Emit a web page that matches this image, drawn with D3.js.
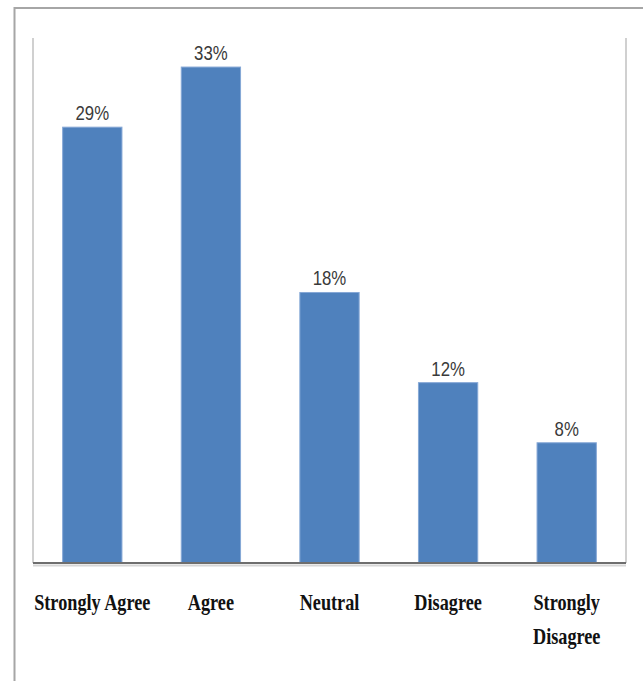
<!DOCTYPE html>
<html>
<head>
<meta charset="utf-8">
<script src="https://cdn.jsdelivr.net/npm/d3@7"></script>
<style>
  html, body { margin: 0; padding: 0; background: #fff; }
  svg { display: block; }
</style>
</head>
<body>
<script>
// Survey responses, share of respondents per answer
const categories = ["Strongly Agree", "Agree", "Neutral", "Disagree", "Strongly Disagree"];
const labelLines = [["Strongly Agree"], ["Agree"], ["Neutral"], ["Disagree"], ["Strongly", "Disagree"]];
const percents = [29, 33, 18, 12, 8];

const W = 643, H = 681;
const plot = { left: 33, right: 626, top: 37, bottom: 563 };

const svg = d3.select("body").append("svg")
  .attr("width", W).attr("height", H);

// outer frame (extends past the right and bottom edges)
svg.append("rect")
  .attr("x", 14.5).attr("y", 8)
  .attr("width", W + 20).attr("height", H + 20)
  .attr("fill", "#fff")
  .attr("stroke", "#a6a6a6").attr("stroke-width", 2);

const x = d3.scaleBand()
  .domain(categories)
  .range([plot.left, plot.right])
  .paddingInner(0.5)
  .paddingOuter(0.25);

const y = d3.scaleLinear()
  .domain([0, 35])
  .range([plot.bottom, plot.top]);

// side borders of the plot area
[plot.left, plot.right].forEach(px => {
  svg.append("line")
    .attr("x1", px).attr("x2", px)
    .attr("y1", plot.top + 1).attr("y2", plot.bottom)
    .attr("stroke", "#d0d0d0").attr("stroke-width", 2);
});

// bars
svg.append("g").selectAll("rect")
  .data(percents)
  .join("rect")
  .attr("x", (d, i) => x(categories[i]))
  .attr("y", d => y(d))
  .attr("width", x.bandwidth())
  .attr("height", d => y(0) - y(d))
  .attr("fill", "#4f81bd")
  .attr("stroke", "#86a8d6")
  .attr("stroke-width", 1);

// baseline with soft shadow
svg.append("line")
  .attr("x1", plot.left).attr("x2", plot.right)
  .attr("y1", plot.bottom + 2.5).attr("y2", plot.bottom + 2.5)
  .attr("stroke", "#d6d6d6").attr("stroke-width", 2);
svg.append("line")
  .attr("x1", plot.left).attr("x2", plot.right)
  .attr("y1", plot.bottom).attr("y2", plot.bottom)
  .attr("stroke", "#6e6e6e").attr("stroke-width", 2);

// value labels above bars (narrow sans)
svg.append("g").selectAll("text")
  .data(percents)
  .join("text")
  .attr("transform", (d, i) =>
    `translate(${x(categories[i]) + x.bandwidth() / 2},${y(d) - 7}) scale(0.8,1)`)
  .attr("text-anchor", "middle")
  .attr("font-family", "'Liberation Sans Narrow', 'Liberation Sans', Arial, sans-serif")
  .attr("font-size", 21)
  .attr("fill", "#3a3a3a")
  .text(d => d + "%");

// category labels (bold condensed serif)
const cat = svg.append("g").selectAll("g")
  .data(categories)
  .join("g")
  .attr("transform", d => `translate(${x(d) + x.bandwidth() / 2},0)`);

cat.each(function (d, i) {
  const g = d3.select(this);
  labelLines[i].forEach((line, j) => {
    g.append("text")
      .attr("transform", `translate(0,${610 + j * 34}) scale(0.76,1)`)
      .attr("text-anchor", "middle")
      .attr("font-family", "'Liberation Serif', 'Times New Roman', serif")
      .attr("font-weight", "bold")
      .attr("font-size", 24)
      .attr("fill", "#111")
      .text(line);
  });
});
</script>
</body>
</html>
